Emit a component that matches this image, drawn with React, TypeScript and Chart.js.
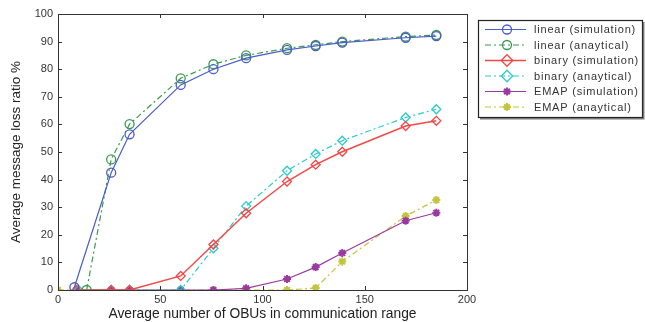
import React, { useEffect, useRef } from "react";
import { Chart, registerables } from "chart.js";

Chart.register(...registerables);

const xTicks = [0, 50, 100, 150, 200];
const yTicks = [0, 10, 20, 30, 40, 50, 60, 70, 80, 90, 100];

const seriesLabels = [
  "linear (simulation)",
  "linear (anaytical)",
  "binary (simulation)",
  "binary (anaytical)",
  "EMAP (simulation)",
  "EMAP (anaytical)",
];

const linearSimX = [8, 26, 35, 60, 76, 92, 112, 126, 139, 170, 185];
const linearSimY = [1, 42.5, 56.4, 74.3, 80, 84, 87, 88.4, 89.6, 91.4, 92];

const linearAnaX = [14, 26, 35, 60, 76, 92, 112, 126, 139, 170, 185];
const linearAnaY = [0, 47.3, 60.1, 76.7, 81.8, 85, 87.6, 88.8, 90, 91.8, 92.4];

const binarySimX = [9, 26, 35, 60, 76, 92, 112, 126, 139, 170, 185];
const binarySimY = [0, 0, 0, 5.1, 16.5, 27.8, 39.3, 45.4, 50.1, 59.4, 61.3];

const binaryAnaX = [10, 26, 35, 60, 76, 92, 112, 126, 139, 170, 185];
const binaryAnaY = [0, 0, 0, 0, 15.1, 30.4, 43.2, 49.3, 54.1, 62.5, 65.5];

const emapSimX = [9, 26, 35, 60, 76, 92, 112, 126, 139, 170, 185];
const emapSimY = [0, 0, 0, 0, 0, 0.6, 4, 8.3, 13.4, 25.1, 28];

const emapAnaX = [0, 9, 26, 35, 60, 76, 92, 112, 126, 139, 170, 185];
const emapAnaY = [0, 0, 0, 0, 0, 0, 0, 0, 0.7, 10.3, 26.8, 32.6];

const colors = ["#4a5cc8", "#3a9a4e", "#f34848", "#2ccaca", "#9a3aa0", "#c4c43e"];
const dashes = [[], [6, 3, 2, 3], [], [6, 3, 2, 3], [], [6, 3, 2, 3]];
const widths = [1.2, 1.2, 1.5, 1.2, 1.2, 1.2];
const pointStyles = ["circle", "circle", "rectRot", "rectRot", "star", "star"];

const zip = (xs: number[], ys: number[]) => xs.map((x, i) => ({ x, y: ys[i] }));

const seriesData = [
  zip(linearSimX, linearSimY),
  zip(linearAnaX, linearAnaY),
  zip(binarySimX, binarySimY),
  zip(binaryAnaX, binaryAnaY),
  zip(emapSimX, emapSimY),
  zip(emapAnaX, emapAnaY),
];

const FONT = "'Liberation Sans', Arial, sans-serif";

function drawMarker(ctx: CanvasRenderingContext2D, style: string, r: number, x: number, y: number) {
  ctx.beginPath();
  if (style === "circle") {
    ctx.arc(x, y, r, 0, Math.PI * 2);
  } else if (style === "rectRot") {
    const d = r * Math.SQRT2 * 0.9;
    ctx.moveTo(x, y - d);
    ctx.lineTo(x + d, y);
    ctx.lineTo(x, y + d);
    ctx.lineTo(x - d, y);
    ctx.closePath();
  } else {
    for (let k = 0; k < 4; k++) {
      const ang = (k * Math.PI) / 4;
      ctx.moveTo(x - Math.cos(ang) * r, y - Math.sin(ang) * r);
      ctx.lineTo(x + Math.cos(ang) * r, y + Math.sin(ang) * r);
    }
  }
  ctx.stroke();
}

const framePlugin = {
  id: "frame",
  afterDraw(chart: any) {
    const { ctx, chartArea: a, scales } = chart;
    ctx.save();
    ctx.strokeStyle = "#333";
    ctx.lineWidth = 1;
    ctx.strokeRect(a.left + 0.5, a.top + 0.5, a.right - a.left, a.bottom - a.top);
    const tl = 4;
    ctx.beginPath();
    xTicks.forEach((v) => {
      const px = Math.round(scales.x.getPixelForValue(v)) + 0.5;
      ctx.moveTo(px, a.bottom);
      ctx.lineTo(px, a.bottom - tl);
      ctx.moveTo(px, a.top);
      ctx.lineTo(px, a.top + tl);
    });
    yTicks.forEach((v) => {
      const py = Math.round(scales.y.getPixelForValue(v)) + 0.5;
      ctx.moveTo(a.left, py);
      ctx.lineTo(a.left + tl, py);
      ctx.moveTo(a.right, py);
      ctx.lineTo(a.right - tl, py);
    });
    ctx.stroke();

    // legend
    const bx = 478.5, by = 20.5, bw = 164, bh = 97;
    ctx.fillStyle = "#fff";
    ctx.fillRect(bx, by, bw, bh);
    ctx.strokeStyle = "#222";
    ctx.lineWidth = 1.2;
    ctx.strokeRect(bx, by, bw, bh);
    ctx.strokeStyle = "#777";
    ctx.lineWidth = 1.5;
    ctx.beginPath();
    ctx.moveTo(bx + 1.5, by + bh + 1.2);
    ctx.lineTo(bx + bw + 1.2, by + bh + 1.2);
    ctx.lineTo(bx + bw + 1.2, by + 1.5);
    ctx.stroke();
    ctx.font = `11px ${FONT}`;
    (ctx as any).letterSpacing = "0.8px";
    ctx.textBaseline = "middle";
    chart.data.datasets.forEach((ds: any, i: number) => {
      const y = 29.5 + i * 15.5;
      ctx.strokeStyle = ds.borderColor;
      ctx.lineWidth = ds.borderWidth;
      ctx.setLineDash(ds.borderDash || []);
      ctx.beginPath();
      ctx.moveTo(485, y);
      ctx.lineTo(526, y);
      ctx.stroke();
      ctx.setLineDash([]);
      ctx.lineWidth = ds.pointBorderWidth;
      drawMarker(ctx, ds.pointStyle, ds.pointRadius, 507, y);
      ctx.fillStyle = "#333";
      ctx.fillText(ds.label, 534, y + 0.5);
    });
    (ctx as any).letterSpacing = "0px";
    ctx.restore();
  },
};

export default function App() {
  const ref = useRef<HTMLCanvasElement>(null);
  useEffect(() => {
    if (!ref.current) return;
    const chart = new Chart(ref.current, {
      type: "line",
      data: {
        datasets: seriesLabels.map((label, i) => ({
          label,
          data: seriesData[i],
          borderColor: colors[i],
          backgroundColor: "rgba(0,0,0,0)",
          borderWidth: widths[i],
          borderDash: dashes[i],
          pointStyle: pointStyles[i] as any,
          pointRadius: i >= 4 ? 4 : 4.5,
          pointBorderColor: colors[i],
          pointBackgroundColor: "rgba(0,0,0,0)",
          pointBorderWidth: i >= 4 ? 2 : 1.3,
          tension: 0,
          fill: false,
        })),
      },
      options: {
        animation: false,
        responsive: false,
        maintainAspectRatio: false,
        layout: { padding: { left: 8, top: 14, right: 178, bottom: 0 } },
        plugins: { legend: { display: false }, tooltip: { enabled: false } },
        scales: {
          x: {
            type: "linear",
            min: 0,
            max: 200,
            afterBuildTicks: (s: any) => {
              s.ticks = xTicks.map((v) => ({ value: v }));
            },
            afterFit: (s: any) => {
              s.height = 32;
            },
            grid: { display: false, drawTicks: false },
            border: { display: false },
            ticks: {
              color: "#333",
              font: { family: FONT, size: 11 },
              padding: 3,
              maxRotation: 0,
            },
            title: {
              display: true,
              text: "Average number of OBUs in communication range",
              color: "#222",
              font: { family: FONT, size: 13.8 },
              padding: { top: 0, bottom: 0 },
            },
          },
          y: {
            type: "linear",
            min: 0,
            max: 100,
            afterBuildTicks: (s: any) => {
              s.ticks = yTicks.map((v) => ({ value: v }));
            },
            afterFit: (s: any) => {
              s.width = 50;
            },
            grid: { display: false, drawTicks: false },
            border: { display: false },
            ticks: {
              color: "#333",
              font: { family: FONT, size: 11 },
              padding: 5,
            },
            title: {
              display: true,
              text: "Average message loss ratio %",
              color: "#222",
              font: { family: FONT, size: 13.5 },
              padding: { top: 0, bottom: 4 },
            },
          },
        },
      },
      plugins: [framePlugin],
    });
    return () => chart.destroy();
  }, []);
  return (
    <div style={{ position: "fixed", left: 0, top: 0, width: 645, height: 322, background: "#fff" }}>
      <canvas ref={ref} width={645} height={322} style={{ display: "block", width: 645, height: 322 }} />
    </div>
  );
}
